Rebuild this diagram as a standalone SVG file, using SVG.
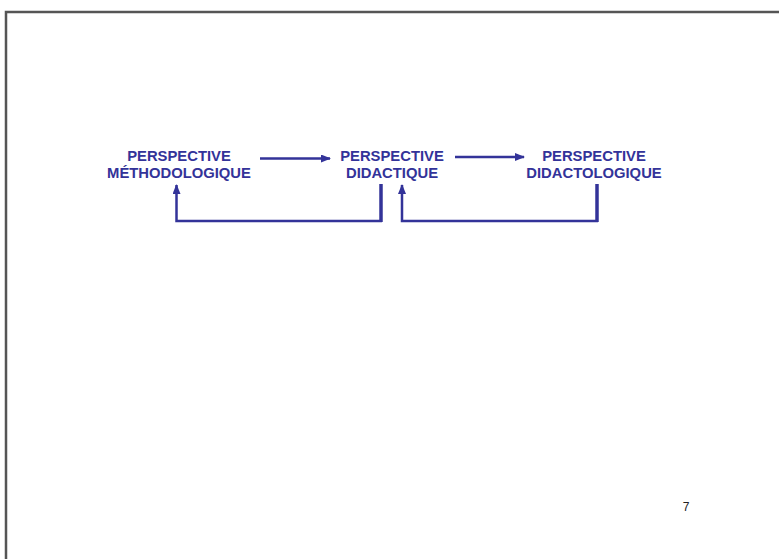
<svg xmlns="http://www.w3.org/2000/svg" width="779" height="559" viewBox="0 0 779 559">
<style>
.t{font-family:"Liberation Sans",Arial,sans-serif;font-weight:bold;font-size:14.8px;fill:#333399;text-anchor:middle}
.c{fill:none;stroke:#333399;stroke-width:2.5}
.k{stroke-width:3.5}
</style>
<defs>
<marker id="ah" markerWidth="10" markerHeight="8" refX="9" refY="4" orient="auto" markerUnits="userSpaceOnUse">
<path d="M0,0L10,4L0,8z" fill="#333399"/>
</marker>
</defs>
<rect width="779" height="559" fill="#fff"/>
<path d="M6,559V12H779" fill="none" stroke="#555" stroke-width="2.5"/>
<g id="n1"><text class="t" x="179" y="161">PERSPECTIVE</text><text class="t" x="179" y="178">MÉTHODOLOGIQUE</text></g>
<g id="n2"><text class="t" x="392" y="161">PERSPECTIVE</text><text class="t" x="392" y="178">DIDACTIQUE</text></g>
<g id="n3"><text class="t" x="594" y="161">PERSPECTIVE</text><text class="t" x="594" y="178">DIDACTOLOGIQUE</text></g>
<g id="connectors">
<path class="c" d="M260,158.5H330" marker-end="url(#ah)"/>
<path class="c" d="M455,157H524" marker-end="url(#ah)"/>
<path class="c k" d="M381,184V222"/>
<path class="c" d="M382,221H176.5V185" marker-end="url(#ah)"/>
<path class="c k" d="M597,184V222"/>
<path class="c" d="M598,221H402V185" marker-end="url(#ah)"/>
</g>
<text x="686" y="511" font-family="Liberation Sans,Arial,sans-serif" font-size="12" fill="#222" text-anchor="middle">7</text>
</svg>
